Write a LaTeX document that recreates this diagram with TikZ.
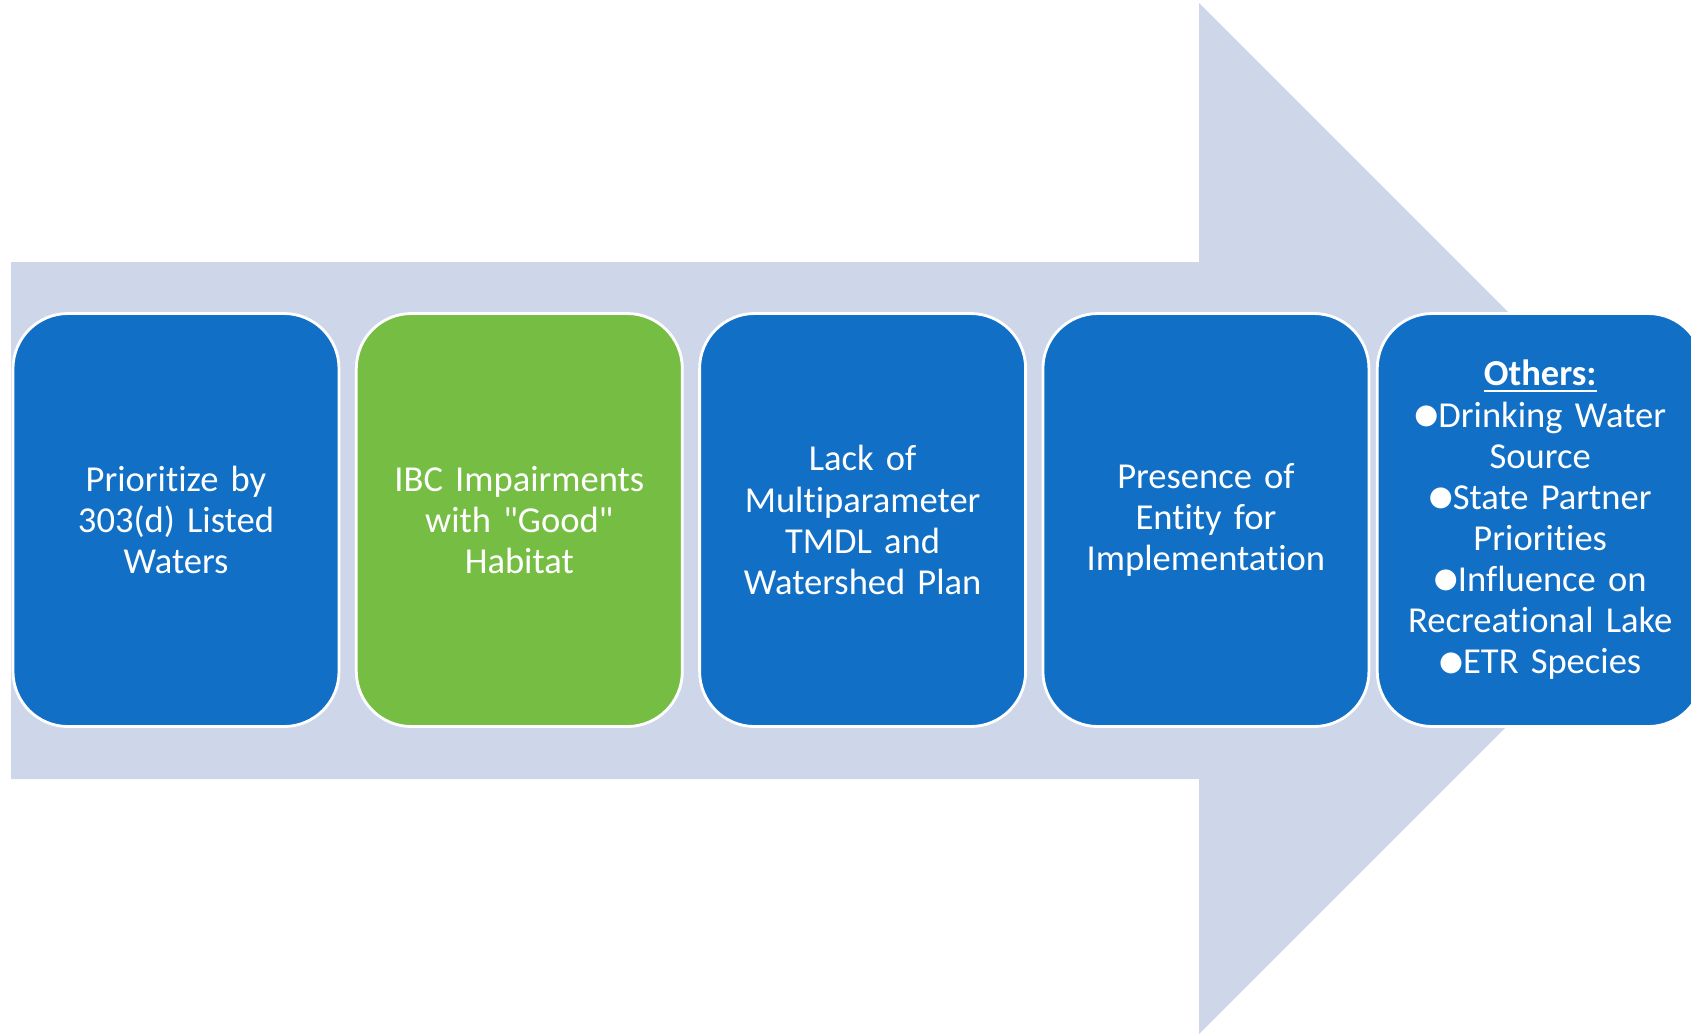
\documentclass[tikz,border=0pt]{standalone}
\usepackage{fontspec}
\newfontfamily\calibri{Carlito}[Ligatures={NoCommon}]
\newfontfamily\dejavu{DejaVu Sans}
\usetikzlibrary{positioning}
\definecolor{arrowfill}{HTML}{CED6EA}
\definecolor{boxblue}{HTML}{1170C6}
\definecolor{boxgreen}{HTML}{76BE43}
\newcommand{\blt}{\raisebox{0.1em}{\dejavu\scalebox{0.75}{●}}}
\begin{document}
\begin{tikzpicture}[
			x=0.1mm, y=-0.1mm,
			stepbox/.style={rectangle, rounded corners=5.5mm, draw=white, line width=0.8pt,
					fill=boxblue, text=white, minimum width=32.6mm, minimum height=41.3mm,
					align=center, inner sep=0pt, text width=31mm,
					font=\calibri\fontsize{10.4pt}{11.7pt}\selectfont},
			node distance=1.45mm
		]
		\useasboundingbox (0,0) rectangle (1691,1034);
		\clip (0,0) rectangle (1691,1034);
		% big background arrow
		\fill[arrowfill] (11,262) -- (1199,262) -- (1199,3) -- (1714.5,518.5)
			-- (1199,1034) -- (1199,779) -- (11,779) -- cycle;
		% steps
		\node[stepbox] (prio) at (176,520) {Prioritize by\\303(d) Listed\\Waters};
		\node[stepbox, fill=boxgreen, right=of prio] (ibc) {IBC Impairments\\with "Good"\\Habitat};
		\node[stepbox, right=of ibc] (lack) {Lack of\\Multiparameter\\TMDL and\\Watershed Plan};
		\node[stepbox, right=of lack] (entity) {Presence of\\Entity for\\Implementation};
		\node[stepbox, right=0.55mm of entity] (others) {\textbf{\underline{Others:}}\\
			\blt Drinking Water\\Source\\
			\blt State Partner\\Priorities\\
			\blt Influence on\\Recreational Lake\\
			\blt ETR Species};
	\end{tikzpicture}
\end{document}
